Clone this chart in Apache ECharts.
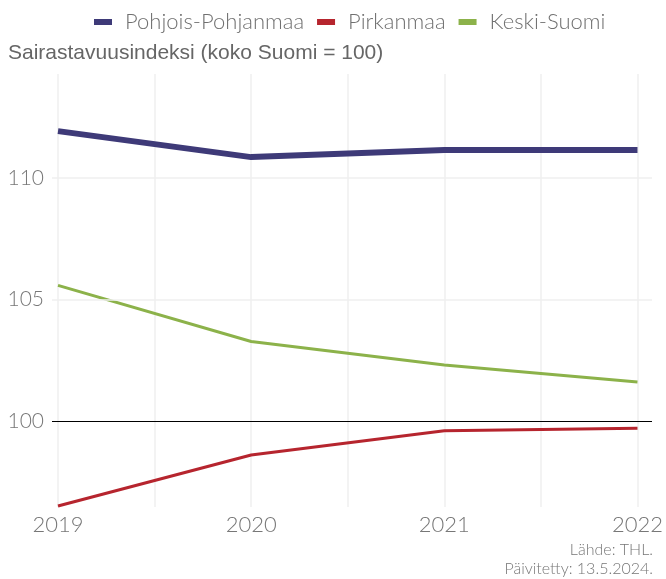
<!DOCTYPE html>
<html><head><meta charset="utf-8">
<script src="https://cdn.jsdelivr.net/npm/echarts@6/dist/echarts.min.js"></script>
<style>html,body{margin:0;padding:0;background:#fff}#c{width:666px;height:579px}</style>
</head><body><div id="c"></div>
<script>
const years = [2019, 2020, 2021, 2022];
const seriesNames = ['Pohjois-Pohjanmaa', 'Pirkanmaa', 'Keski-Suomi'];
const pohjoisPohjanmaa = [111.93, 110.86, 111.15, 111.15];
const pirkanmaa = [96.5, 98.6, 99.6, 99.7];
const keskiSuomi = [105.58, 103.27, 102.3, 101.6];
const yTicks = [100, 105, 110];
const xTicks = [2019, 2020, 2021, 2022];
const captionLines = ['Lähde: THL.', 'Päivitetty: 13.5.2024.'];
const colors = ['#3e3a78', '#b6252e', '#8cb24a'];
const widths = [6, 3, 3];
const Y_MIN = 96.46, Y_MAX = 114.28;
const FONT = 'Lato';

const values = [pohjoisPohjanmaa, pirkanmaa, keskiSuomi];
const chart = echarts.init(document.getElementById('c'), null, {renderer: 'canvas'});
const series = seriesNames.map((n, i) => ({
  name: n, type: 'line', xAxisIndex: 0, yAxisIndex: 0,
  data: years.map((y, j) => [y, values[i][j]]),
  symbol: 'none', lineStyle: {color: colors[i], width: widths[i], cap: 'butt'},
  itemStyle: {color: colors[i]}, z: 5 - i, clip: false
}));
series.push({
  type: 'line', xAxisIndex: 1, yAxisIndex: 1, data: [], silent: true,
  markLine: {
    symbol: 'none', silent: true, animation: false,
    data: yTicks.map(v => ({
      yAxis: v,
      lineStyle: {color: v === 100 ? '#000' : '#efefef', width: v === 100 ? 1.2 : 1.5, type: 'solid'},
      label: {show: true, position: 'start', formatter: String(v), color: '#777', fontSize: 21, fontFamily: FONT, fontWeight: 300, distance: 8}
    }))
  },
  z: 1
});
chart.setOption({
  animation: false,
  color: colors,
  title: [
    {text: 'Sairastavuusindeksi (koko Suomi = 100)', left: 3, top: 38, textStyle: {fontFamily: 'Liberation Sans', fontWeight: 'normal', fontSize: 21, color: '#666'}}
  ],
  graphic: captionLines.map((t, i) => ({
    type: 'text', right: 13, top: 542 + i * 19,
    style: {text: t, fontFamily: FONT, fontWeight: 300, fontSize: 16, fill: '#777'}
  })),
  legend: {
    data: seriesNames, top: 6, left: 89, icon: 'rect', itemWidth: 18, itemHeight: 6, itemGap: 13,
    textStyle: {fontFamily: FONT, fontWeight: 300, fontSize: 22, color: '#707070', padding: [0, 0, 0, 8]}
  },
  grid: [
    {left: 58, right: 26, top: 74, bottom: 72},
    {left: 52, right: 14, top: 74, bottom: 72}
  ],
  xAxis: [
    {type: 'value', gridIndex: 0, min: 2019, max: 2022, interval: 0.5,
     axisLine: {show: false}, axisTick: {show: false},
     splitLine: {show: true, lineStyle: {color: '#efefef', width: 1.5}},
     axisLabel: {color: '#777', fontSize: 22, fontFamily: FONT, fontWeight: 300, margin: 7,
       formatter: v => (Math.abs(v - Math.round(v)) < 1e-6 && xTicks.includes(Math.round(v))) ? String(Math.round(v)) : ''}},
    {type: 'value', gridIndex: 1, min: 0, max: 1, show: false}
  ],
  yAxis: [
    {type: 'value', gridIndex: 0, min: Y_MIN, max: Y_MAX, show: false, splitLine: {show: false}},
    {type: 'value', gridIndex: 1, min: Y_MIN, max: Y_MAX, show: false, splitLine: {show: false}}
  ],
  series: series
});
</script></body></html>
